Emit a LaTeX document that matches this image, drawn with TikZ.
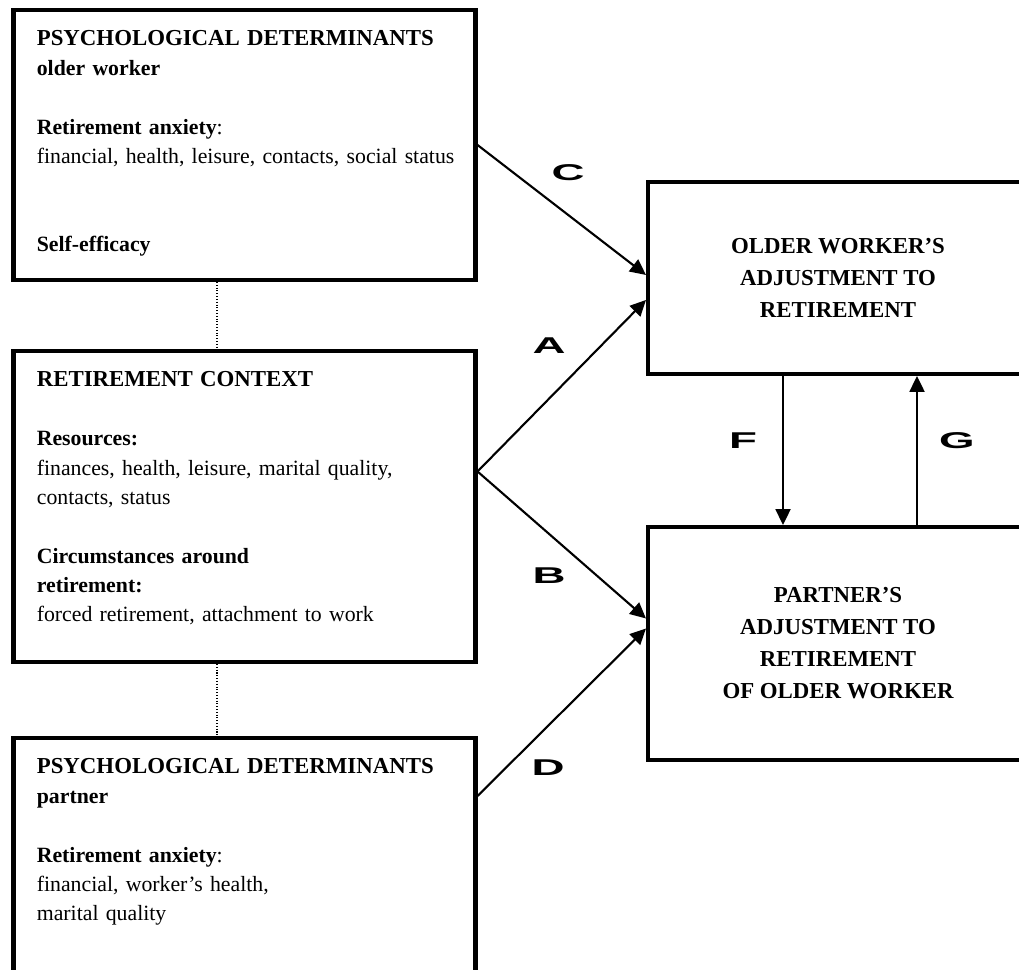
\documentclass[tikz,border=0pt]{standalone}
\usepackage{graphicx}
\usepackage{fontspec}
\setmainfont{Liberation Serif}
\setsansfont{Liberation Sans}
\usetikzlibrary{arrows.meta}

\newcommand{\pathlabel}[1]{\scalebox{2}[1]{\sffamily\bfseries #1}}
\newcommand{\boxhead}[1]{{\fontsize{13}{16.7}\selectfont\bfseries #1}}

\begin{document}
\begin{tikzpicture}[
  box/.style={draw,line width=2.3pt,inner sep=0pt},
  lbox/.style={box,minimum width=9.24cm},
  rbox/.style={box,minimum width=7.6cm,align=center,font=\fontsize{13}{18.2}\selectfont\bfseries},
  txt/.style={anchor=base west,inner sep=0pt,text width=8.8cm,align=left,font=\fontsize{12.4}{16.7}\selectfont},
  link/.style={line width=1.2pt,-{Triangle[length=9pt,width=8.5pt]}},
  lab/.style={inner sep=0pt,font=\fontsize{13}{13}\selectfont}
]
\useasboundingbox (0,0) rectangle (20.38,19.4);
\clip (0,0) rectangle (20.38,19.4);

% left column
\node[lbox,minimum height=5.4cm] (psyow) at (4.89,16.5) {};
\node[lbox,minimum height=6.22cm] (ctx) at (4.89,9.27) {};
\node[lbox,minimum height=6cm,anchor=north] (psypt) at (4.89,4.68) {};

\node[txt] (psyowtxt) at ([xshift=0.5cm,yshift=-0.76cm]psyow.north west)
  {\boxhead{PSYCHOLOGICAL DETERMINANTS}\\ \textbf{older worker}\\[16.7pt]
   \textbf{Retirement anxiety}:\\ financial, health, leisure, contacts, social status\\[33.4pt]
   \textbf{Self-efficacy}};
\node[txt] (ctxtxt) at ([xshift=0.5cm,yshift=-0.76cm]ctx.north west)
  {\boxhead{RETIREMENT CONTEXT}\\[16.7pt]
   \textbf{Resources:}\\ \makebox[8.28cm][s]{finances, health, leisure, marital quality,}\\ contacts, status\\[16.7pt]
   \textbf{Circumstances around}\\ \textbf{retirement:}\\ forced retirement, attachment to work};
\node[txt] (psypttxt) at ([xshift=0.5cm,yshift=-0.76cm]psypt.north west)
  {\boxhead{PSYCHOLOGICAL DETERMINANTS}\\ \textbf{partner}\\[16.7pt]
   \textbf{Retirement anxiety}:\\ financial, worker's health,\\ marital quality};

% right column
\node[rbox,minimum height=3.84cm] (owadj) at (16.76,13.84) {OLDER WORKER'S\\ADJUSTMENT TO\\RETIREMENT};
\node[rbox,minimum height=4.66cm] (ptadj) at (16.76,6.53) {PARTNER'S\\ADJUSTMENT TO\\RETIREMENT\\OF OLDER WORKER};

% paths
\draw[densely dotted,line width=0.6pt] ([xshift=-0.55cm]psyow.south) -- ([xshift=-0.55cm]ctx.north);
\draw[densely dotted,line width=0.6pt] ([xshift=-0.55cm]ctx.south) -- ([xshift=-0.55cm]psypt.north);

\draw[link] (psyow.east) -- ([yshift=0.06cm]owadj.west);
\draw[link] ([yshift=0.7cm]ctx.east) -- ([yshift=-0.44cm]owadj.west);
\draw[link] ([yshift=0.7cm]ctx.east) -- ([yshift=0.5cm]ptadj.west);
\draw[link] ([yshift=-1.2cm]psypt.north east) -- ([yshift=0.3cm]ptadj.west);
\draw[link] ([xshift=-1.1cm]owadj.south) -- ([xshift=-1.1cm]ptadj.north);
\draw[link] ([xshift=1.58cm]ptadj.north) -- ([xshift=1.58cm]owadj.south);

\node[lab] (lblC) at (11.36,15.94) {\pathlabel{C}};
\node[lab] (lblA) at (10.98,12.48) {\pathlabel{A}};
\node[lab] (lblB) at (10.98,7.88) {\pathlabel{B}};
\node[lab] (lblD) at (10.96,4.04) {\pathlabel{D}};
\node[lab] (lblF) at (14.86,10.58) {\pathlabel{F}};
\node[lab] (lblG) at (19.14,10.58) {\pathlabel{G}};
\end{tikzpicture}
\end{document}
